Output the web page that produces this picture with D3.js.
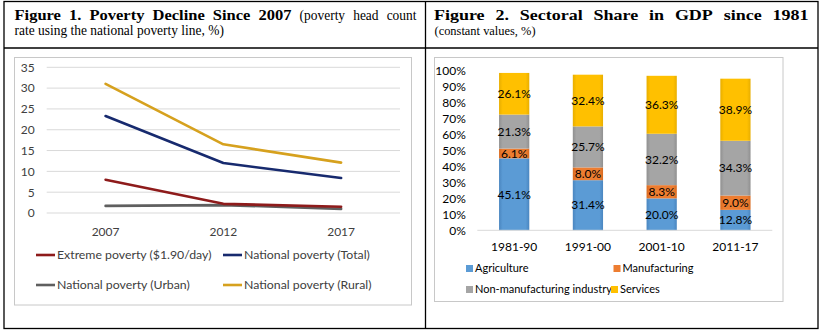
<!DOCTYPE html>
<html><head><meta charset="utf-8">
<script src="https://cdn.jsdelivr.net/npm/d3@7"></script>
<style>body{margin:0;background:#fff} svg{display:block}</style>
</head><body><svg id="c" width="824" height="335"></svg>
<script>
// ---- Figure 1 data ----
const years = ["2007", "2012", "2017"];
const povertySeries = ["Extreme poverty ($1.90/day)", "National poverty (Total)", "National poverty (Urban)", "National poverty (Rural)"];
const extremePoverty = [8.0, 2.2, 1.5];
const nationalTotal = [23.3, 12.0, 8.4];
const nationalUrban = [1.7, 1.9, 1.0];
const nationalRural = [31.0, 16.5, 12.1];
const povertyTicks = [0, 5, 10, 15, 20, 25, 30, 35];

// ---- Figure 2 data ----
const periods = ["1981-90", "1991-00", "2001-10", "2011-17"];
const sectors = ["Agriculture", "Manufacturing", "Non-manufacturing industry", "Services"];
const agriculture = [45.1, 31.4, 20.0, 12.8];
const manufacturing = [6.1, 8.0, 8.3, 9.0];
const nonManufacturing = [21.3, 25.7, 32.2, 34.3];
const services = [26.1, 32.4, 36.3, 38.9];
const shareTicks = [0, 10, 20, 30, 40, 50, 60, 70, 80, 90, 100];

const svg = d3.select("#c");
const SERIF = "'Liberation Serif','Times New Roman',serif";
const SANS = "Lato, 'Noto Sans', sans-serif";

// ---- table frame ----
const T = {x0: 4, x1: 818, y0: 1.5, y1: 328.5, mid: 425.5, hdr: 48};
const frame = svg.append("g").attr("stroke", "#000").attr("stroke-width", 1.3).attr("fill", "none");
frame.append("rect").attr("x", T.x0).attr("y", T.y0).attr("width", T.x1 - T.x0).attr("height", T.y1 - T.y0);
frame.append("line").attr("x1", T.x0).attr("x2", T.x1).attr("y1", T.hdr).attr("y2", T.hdr);
frame.append("line").attr("x1", T.mid).attr("x2", T.mid).attr("y1", T.y0).attr("y2", T.y1);

// ---- titles: words placed one by one, justified between x0 and x1 ----
function titleLine(parts, x0, x1, y, justifyIt) {
  const g = svg.append("g").attr("font-family", SERIF).attr("fill", "#000");
  const words = [];
  parts.forEach(p => p.text.split(" ").forEach(w => words.push({w, p})));
  const nodes = words.map(d => g.append("text")
    .attr("font-weight", d.p.bold ? "bold" : "normal").attr("font-size", d.p.fs).text(d.w));
  const widths = nodes.map((n, i) => n.node().getComputedTextLength() * words[i].p.sx);
  const total = d3.sum(widths);
  const gap = justifyIt ? (x1 - x0 - total) / (words.length - 1) : words[0].p.fs * 0.25 * words[0].p.sx;
  let x = x0;
  nodes.forEach((n, i) => {
    n.attr("transform", `translate(${x},${y}) scale(${words[i].p.sx},1)`);
    x += widths[i] + gap;
  });
}
titleLine([{text: "Figure 1. Poverty Decline Since 2007", bold: true, fs: 15, sx: 1.1},
           {text: "(poverty head count", bold: false, fs: 14, sx: 0.96}], 14.5, 416.5, 20, true);
titleLine([{text: "rate using the national poverty line, %)", bold: false, fs: 14, sx: 0.96}], 14.5, 0, 34.5, false);
titleLine([{text: "Figure 2. Sectoral Share in GDP since 1981", bold: true, fs: 15, sx: 1.2}], 434, 808.5, 20, true);
titleLine([{text: "(constant values, %)", bold: false, fs: 13.5, sx: 0.92}], 434.5, 0, 34.5, false);

// ---- chart frames ----
svg.append("rect").attr("x", 14.5).attr("y", 57.5).attr("width", 397).attr("height", 247.5)
  .attr("fill", "none").attr("stroke", "#c8c8c8").attr("stroke-width", 1);
svg.append("rect").attr("x", 434.5).attr("y", 57.5).attr("width", 348.5).attr("height", 244)
  .attr("fill", "none").attr("stroke", "#c8c8c8").attr("stroke-width", 1);

// ================= Figure 1 =================
const fs1 = 12, fsLeg1 = 12.3;
const x1 = d3.scaleBand().domain(years).range([46.7, 400]);
const y1 = d3.scaleLinear().domain([0, 35]).range([213, 67.3]);
const g1 = svg.append("g");
g1.append("g").selectAll("line").data(povertyTicks).join("line")
  .attr("x1", 46.7).attr("x2", 400).attr("y1", d => y1(d)).attr("y2", d => y1(d))
  .attr("stroke", "#d9d9d9").attr("stroke-width", 1);
const ya1 = g1.append("g").attr("transform", "translate(46.7,0)")
  .call(d3.axisLeft(y1).tickValues(povertyTicks).tickSize(0).tickPadding(12));
ya1.select(".domain").remove();
ya1.selectAll("text").attr("font-family", SANS).attr("font-size", fs1).attr("fill", "#404040");
const xa1 = g1.append("g").attr("transform", "translate(0,213)")
  .call(d3.axisBottom(x1).tickSize(0).tickPadding(14));
xa1.select(".domain").remove();
xa1.selectAll("text").attr("font-family", SANS).attr("font-size", fs1).attr("fill", "#404040");

const lineData = [
  {name: povertySeries[2], values: nationalUrban, color: "#5f5f5f"},
  {name: povertySeries[0], values: extremePoverty, color: "#8e1b1b"},
  {name: povertySeries[1], values: nationalTotal, color: "#172a6e"},
  {name: povertySeries[3], values: nationalRural, color: "#d6a11e"}
];
const line = d3.line().x((d, i) => x1(years[i]) + x1.bandwidth() / 2).y(d => y1(d));
g1.append("g").selectAll("path").data(lineData).join("path")
  .attr("d", d => line(d.values)).attr("fill", "none").attr("stroke", d => d.color)
  .attr("stroke-width", 2.6).attr("stroke-linejoin", "round").attr("stroke-linecap", "round");

const colorOf = {};
lineData.forEach(d => colorOf[d.name] = d.color);
const leg1Pos = [[36, 255], [223, 255], [36, 285], [223, 285]];
const leg1 = g1.append("g").selectAll("g").data(povertySeries).join("g")
  .attr("transform", (d, i) => `translate(${leg1Pos[i][0]},${leg1Pos[i][1]})`);
leg1.append("line").attr("x1", 0).attr("x2", 19).attr("stroke", d => colorOf[d]).attr("stroke-width", 2.6);
leg1.append("text").attr("x", 21).attr("dy", "0.35em").attr("font-family", SANS).attr("font-size", fsLeg1)
  .attr("fill", "#404040").text(d => d);

// ================= Figure 2 =================
const fs2 = 12, fsLeg2 = 11;
const x2 = d3.scaleBand().domain(periods).range([477.3, 772.3]).paddingInner(0.59).paddingOuter(0.295);
const y2 = d3.scaleLinear().domain([0, 100]).range([230.3, 70.7]);
const g2 = svg.append("g");
const rows = periods.map((p, i) => ({period: p, "Agriculture": agriculture[i], "Manufacturing": manufacturing[i],
  "Non-manufacturing industry": nonManufacturing[i], "Services": services[i]}));
const stack = d3.stack().keys(sectors)(rows);
const sectorColors = d3.scaleOrdinal().domain(sectors).range(["#5b9bd5", "#ed7d31", "#a5a5a5", "#ffc000"]);
const edgeColors = d3.scaleOrdinal().domain(sectors).range(["#4a86c0", "#d86a20", "#909090", "#e8ae00"]);

const defs = svg.append("defs");
sectors.forEach((s, k) => {
  const gr = defs.append("linearGradient").attr("id", "gr" + k).attr("x1", 0).attr("x2", 1).attr("y1", 0).attr("y2", 0);
  gr.append("stop").attr("offset", 0).attr("stop-color", edgeColors(s));
  gr.append("stop").attr("offset", 0.12).attr("stop-color", sectorColors(s));
  gr.append("stop").attr("offset", 0.88).attr("stop-color", sectorColors(s));
  gr.append("stop").attr("offset", 1).attr("stop-color", edgeColors(s));
});

const layers = g2.append("g").selectAll("g").data(stack).join("g")
  .attr("fill", (d, k) => `url(#gr${k})`);
layers.selectAll("rect").data(d => d).join("rect")
  .attr("x", d => x2(d.data.period)).attr("width", x2.bandwidth())
  .attr("y", d => y2(d[1])).attr("height", d => y2(d[0]) - y2(d[1]));

const labels = g2.append("g").selectAll("g").data(stack).join("g");
labels.selectAll("text").data(d => d.map(v => ({v, key: d.key}))).join("text")
  .attr("x", d => x2(d.v.data.period) + x2.bandwidth() / 2)
  .attr("y", d => (y2(d.v[0]) + y2(d.v[1])) / 2).attr("dy", "0.35em")
  .attr("text-anchor", "middle").attr("font-family", SANS).attr("font-size", fs2).attr("fill", "#000")
  .text(d => d3.format(".1f")(d.v.data[d.key]) + "%");

g2.append("line").attr("x1", 477.3).attr("x2", 772.3).attr("y1", 230.3).attr("y2", 230.3)
  .attr("stroke", "#d9d9d9").attr("stroke-width", 1);
const ya2 = g2.append("g").attr("transform", "translate(477.3,0)")
  .call(d3.axisLeft(y2).tickValues(shareTicks).tickSize(0).tickPadding(11.5).tickFormat(d => d + "%"));
ya2.select(".domain").remove();
ya2.selectAll("text").attr("font-family", SANS).attr("font-size", fs2).attr("fill", "#000");
const xa2 = g2.append("g").attr("transform", "translate(0,230.3)")
  .call(d3.axisBottom(x2).tickSize(0).tickPadding(12));
xa2.select(".domain").remove();
xa2.selectAll("text").attr("font-family", SANS).attr("font-size", fs2).attr("fill", "#000");

const leg2Pos = [[466, 268.5], [613.5, 268.5], [466, 289.5], [611, 289.5]];
const leg2 = g2.append("g").selectAll("g").data(sectors).join("g")
  .attr("transform", (d, i) => `translate(${leg2Pos[i][0]},${leg2Pos[i][1]})`);
leg2.append("rect").attr("x", 0).attr("y", -3.5).attr("width", 7).attr("height", 7).attr("fill", d => sectorColors(d));
leg2.append("text").attr("x", 9).attr("dy", "0.35em").attr("font-family", SANS).attr("font-size", fsLeg2)
  .attr("fill", "#000").text(d => d);
</script></body></html>
